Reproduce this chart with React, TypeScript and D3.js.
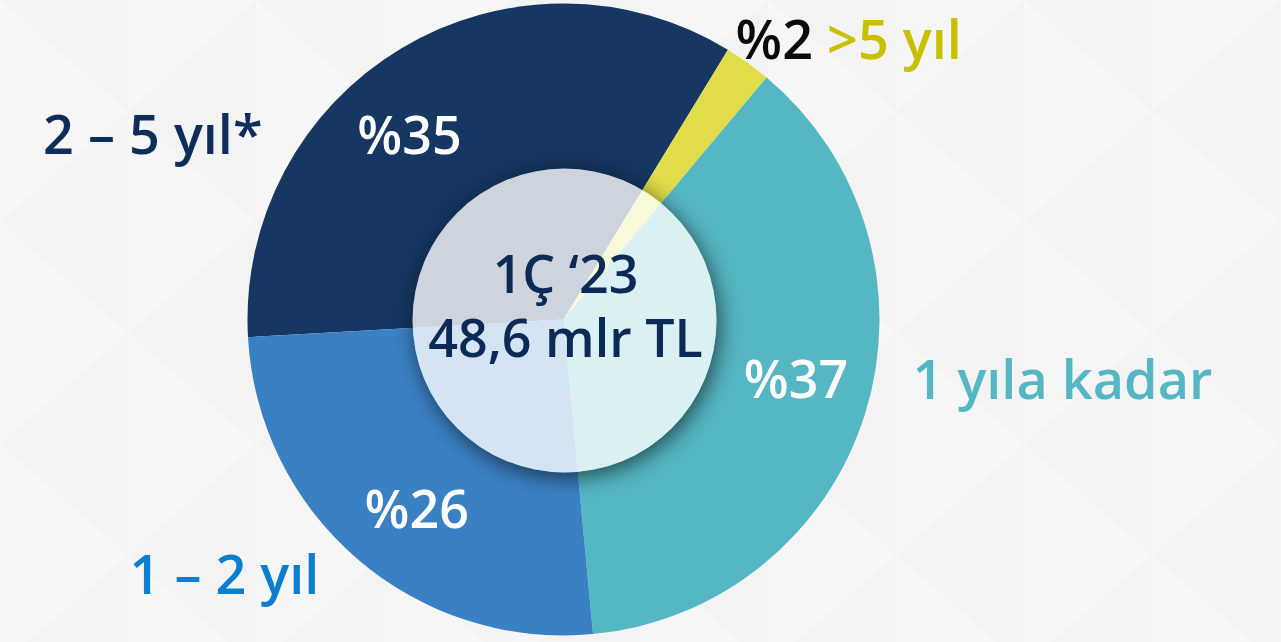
import React from "react";
import * as d3 from "d3";

// slices, clockwise from the navy one
const categories = ["2 – 5 yıl*", ">5 yıl", "1 yıla kadar", "1 – 2 yıl"];
const shares = [34.6, 2.4, 37.4, 25.6];
const shareLabels = ["%35", "%2", "%37", "%26"];
const sliceColors = ["#163761", "#e0dc4a", "#56b7c4", "#3a81c4"];
const labelColors = ["#0f2d5a", "#c9c000", "#56b7c4", "#0b7fcf"];
const centerLines = ["1Ç ‘23", "48,6 mlr TL"];

const W = 1281;
const H = 642;
const cx = 563.5;
const cy = 319.5;
const R = 316;
const innerR = 152;
const font = "'Open Sans', 'Noto Sans', sans-serif";

// where the names sit, relative to the pie centre
const namePos = [
  { dx: -301, dy: -166, anchor: "end" },
  { dx: 172, dy: -261, anchor: "start" },
  { dx: 349, dy: 79, anchor: "start" },
  { dx: -434, dy: 274, anchor: "start" },
];
// small nudges of the inner % labels (degrees)
const labelShift = [-9, 0, -3, -3];

const App = () => {
  const deg = Math.PI / 180;
  const start = -93.2 * deg;
  const pie = d3
    .pie<number>()
    .sort(null)
    .value((d) => d)
    .startAngle(start)
    .endAngle(start + 2 * Math.PI);
  const arcs = pie(shares);
  const arc = d3.arc<d3.PieArcDatum<number>>().innerRadius(0).outerRadius(R);

  // background triangles
  const tri: string[] = [];
  const cw = 128;
  const rh = 222;
  for (let c = -1; c < W / cw + 1; c++) {
    for (let r = -1; r < H / rh + 1; r++) {
      const x = c * cw;
      const y = r * rh + (c % 2 === 0 ? 0 : rh / 2);
      tri.push(`M${x},${y} L${x + cw},${y + rh / 2} L${x},${y + rh} Z`);
    }
  }

  return (
    <svg
      width={W}
      height={H}
      style={{ position: "fixed", left: 0, top: 0, display: "block" }}
    >
      <defs>
        <filter id="blur" x="-30%" y="-30%" width="160%" height="160%">
          <feGaussianBlur stdDeviation="11" />
        </filter>
        <mask id="outside">
          <rect width={W} height={H} fill="white" />
          <circle cx={cx + 1} cy={cy + 1} r={innerR} fill="black" />
        </mask>
      </defs>
      <rect width={W} height={H} fill="#f3f3f3" />
      <g fill="#f6f6f6">
        {tri.map((d, i) => (
          <path key={i} d={d} />
        ))}
      </g>

      <g transform={`translate(${cx},${cy})`}>
        {arcs.map((a, i) => (
          <path key={i} d={arc(a) || ""} fill={sliceColors[i]} />
        ))}
        {arcs.map((a, i) => {
          if (i === 1) return null;
          const m = (a.startAngle + a.endAngle) / 2 + labelShift[i] * deg;
          const rr = 240;
          return (
            <text
              key={i}
              x={rr * Math.sin(m)}
              y={-rr * Math.cos(m)}
              dy="0.36em"
              textAnchor="middle"
              fill="#ffffff"
              fontFamily={font}
              fontWeight={600}
              fontSize={52}
            >
              {shareLabels[i]}
            </text>
          );
        })}
      </g>

      {/* centre disc with its shadow */}
      <g mask="url(#outside)">
        <circle
          cx={cx + 4}
          cy={cy + 6}
          r={innerR}
          fill="#000"
          opacity={0.6}
          filter="url(#blur)"
        />
      </g>
      <circle cx={cx + 1} cy={cy + 1} r={innerR} fill="#ffffff" opacity={0.79} />
      {centerLines.map((t, i) => (
        <text
          key={i}
          x={cx + 2}
          y={cy - 27 + i * 64}
          textAnchor="middle"
          fill="#0d2a57"
          fontFamily={font}
          fontWeight={600}
          fontSize={52}
        >
          {t}
        </text>
      ))}

      {categories.map((c, i) => (
        <text
          key={i}
          x={cx + namePos[i].dx}
          y={cy + namePos[i].dy}
          textAnchor={namePos[i].anchor}
          fontFamily={font}
          fontWeight={600}
          fontSize={54}
          fill={labelColors[i]}
        >
          {i === 1 ? (
            <>
              <tspan fill="#0a0a0a">{shareLabels[i]}</tspan>
              <tspan> {c}</tspan>
            </>
          ) : (
            c
          )}
        </text>
      ))}
    </svg>
  );
};

export default App;
